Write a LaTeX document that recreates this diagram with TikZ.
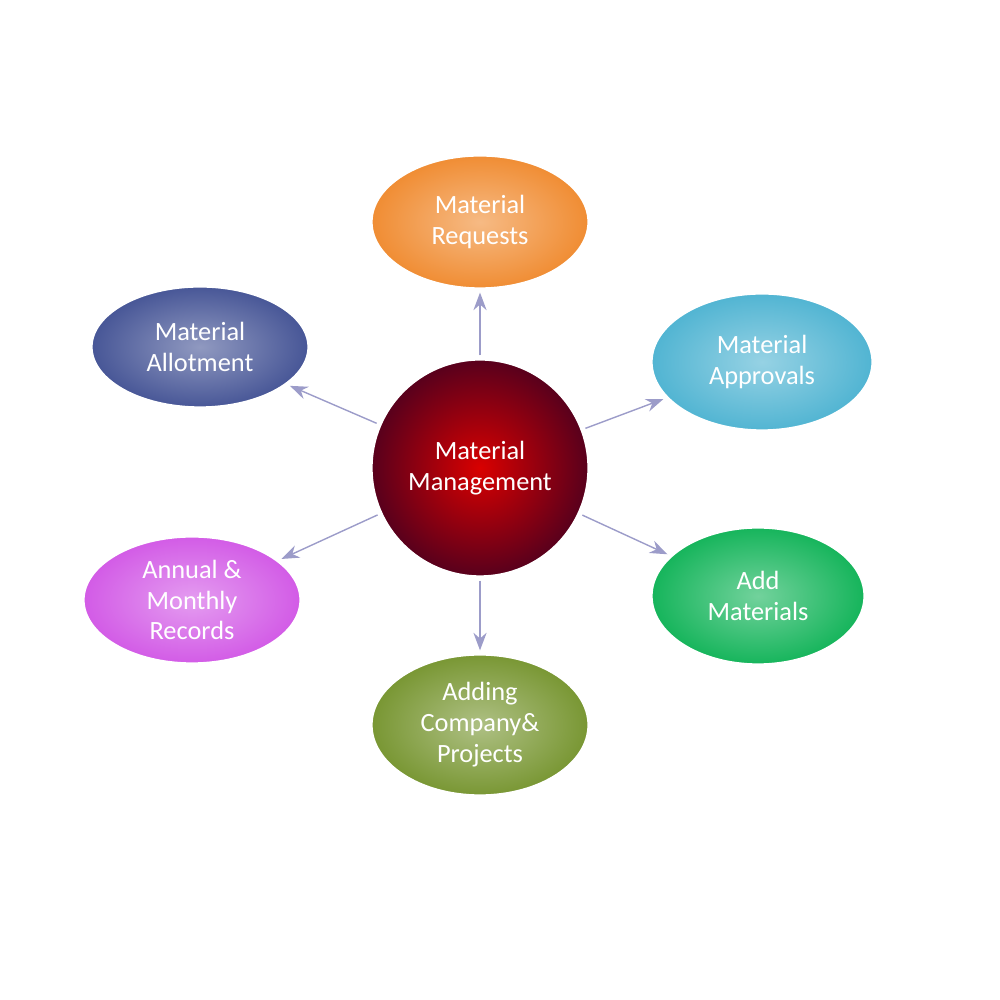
\documentclass[tikz,border=0pt]{standalone}
\usepackage{fontspec}
\setmainfont{Carlito}
\usetikzlibrary{shapes.geometric,arrows.meta}
\definecolor{reqc}{RGB}{240,140,50}
\definecolor{allc}{RGB}{70,85,150}
\definecolor{appc}{RGB}{80,180,210}
\definecolor{addc}{RGB}{20,180,90}
\definecolor{recc}{RGB}{210,90,230}
\definecolor{comc}{RGB}{120,150,50}
\tikzset{
  item/.style={ellipse,minimum width=2.2cm,minimum height=1.36cm,inner sep=0pt,draw=white,line width=1.5pt,
    text=white,align=center,font=\fontsize{7.5}{8.8}\selectfont,inner color=#1!60,outer color=#1},
  link/.style={draw=blue!30!gray!60,-{Stealth[length=5pt]},thin}
}
\begin{document}
\begin{tikzpicture}
	\useasboundingbox (0,0) rectangle (10,10);
	% hub
	\node[circle,minimum size=2.2cm,inner sep=0pt,inner color=red!85!black,outer color=violet!50!red!45!black,
	  draw=white,line width=1.5pt,text=white,align=center,font=\fontsize{7.5}{8.8}\selectfont] (hub) at (4.8,5.32) {Material\\Management};
	% items
	\node[item=reqc] (req) at (4.8,7.78) {Material\\Requests};
	\node[item=allc,minimum height=1.24cm] (allot) at (2.0,6.53) {Material\\Allotment};
	\node[item=appc,minimum width=2.24cm,minimum height=1.4cm] (appr) at (7.62,6.38) {Material\\Approvals};
	\node[item=addc,minimum width=2.16cm,minimum height=1.4cm] (add) at (7.58,4.04) {Add\\Materials};
	\node[item=recc,minimum height=1.3cm] (rec) at (1.92,4.0) {Annual \&\\Monthly\\Records};
	\node[item=comc,minimum height=1.44cm] (comp) at (4.8,2.75) {Adding\\Company\&\\Projects};
	% links
	\draw[link] (hub) -- (req);
	\draw[link] (hub) -- (allot);
	\draw[link] (hub) -- (appr);
	\draw[link] (hub) -- (add);
	\draw[link] (hub) -- (rec);
	\draw[link] (hub) -- (comp);
\end{tikzpicture}
\end{document}
